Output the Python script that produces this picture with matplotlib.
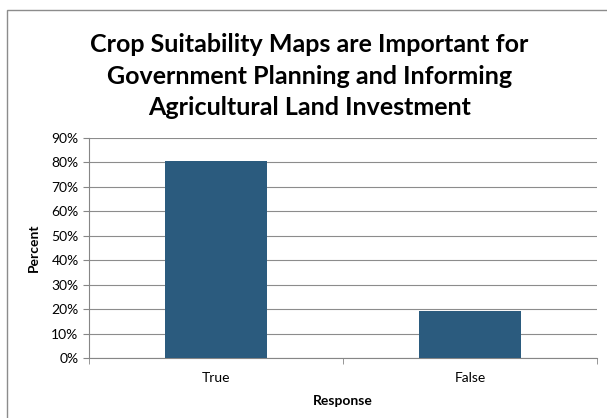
import matplotlib.pyplot as plt
from matplotlib.patches import Rectangle

# Survey responses
responses = ['True', 'False']
percent = [80.7, 19.3]
yticks = [0, 10, 20, 30, 40, 50, 60, 70, 80, 90]

plt.rcParams['font.family'] = ['Lato', 'DejaVu Sans']

fig = plt.figure(figsize=(6.07, 4.18), dpi=100)
ax = fig.add_axes([89 / 607, 1 - 358 / 418, 508 / 607, 220 / 418])

# chart frame
fig.patches.append(Rectangle((7 / 607, -0.01), 1.0, 1 - 10 / 418 + 0.01,
                             transform=fig.transFigure, fill=False,
                             edgecolor='#8c8c8c', linewidth=1.0))

x = range(len(responses))
ax.bar(x, percent, width=0.4, color='#2b5b7e', zorder=3)

ax.set_xlim(-0.5, 1.5)
ax.set_ylim(0, 90)
ax.set_yticks(yticks)
ax.set_yticklabels([f'{t}%' for t in yticks], fontsize=10)
ax.set_xticks(list(x))
ax.set_xticklabels(responses, fontsize=10)
ax.set_xticks([-0.5, 0.5, 1.5], minor=True)
ax.tick_params(axis='x', which='major', length=0, pad=10)
ax.tick_params(axis='x', which='minor', length=4, color='#868686')
ax.tick_params(axis='y', length=4, color='#868686')

ax.grid(axis='y', color='#8c8c8c', linewidth=0.8, zorder=0)
for s in ['top', 'right']:
    ax.spines[s].set_visible(False)
for s in ['left', 'bottom']:
    ax.spines[s].set_color('#868686')

ax.set_ylabel('Percent', fontsize=10, fontweight='bold', labelpad=8)
ax.set_xlabel('Response', fontsize=10, fontweight='bold', labelpad=8)

fig.text(0.51, 1 - 76 / 418, 'Crop Suitability Maps are Important for\n'
         'Government Planning and Informing\nAgricultural Land Investment',
         ha='center', va='center', fontsize=18, fontweight='bold',
         linespacing=1.45)

fig.savefig('out.png', dpi=100)
